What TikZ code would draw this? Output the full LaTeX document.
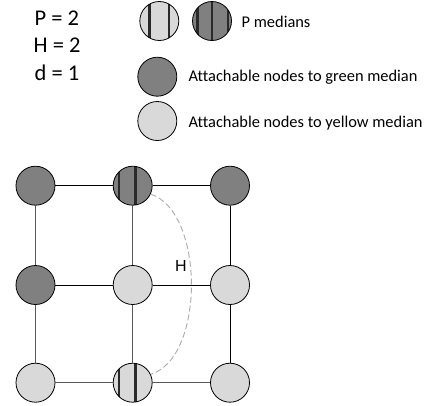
\documentclass[tikz,border=0pt]{standalone}
\usepackage{fontspec}
\setmainfont{Carlito}[Ligatures=NoCommon]
\newfontfamily\hfont{Liberation Sans}
\definecolor{darkfill}{HTML}{808080}
\definecolor{lightfill}{HTML}{D9D9D9}
\definecolor{stripecol}{HTML}{2A2A2A}
\definecolor{edgegray}{HTML}{5A5A5A}
\definecolor{dashgray}{HTML}{AAAAAA}
\tikzset{
  vert/.style={circle, draw=black, line width=0.8pt, minimum size=39pt, inner sep=0pt},
  darkv/.style={vert, fill=darkfill},
  lightv/.style={vert, fill=lightfill},
  edgeA/.style={draw=black, line width=0.9pt},
  edgeB/.style={draw=edgegray, line width=0.9pt},
  bigtxt/.style={font=\fontsize{22.5}{26}\selectfont, anchor=base west, inner sep=0pt},
  legtxt/.style={font=\fontsize{16.4}{19}\selectfont, anchor=base west, inner sep=0pt},
}
\begin{document}
\begin{tikzpicture}[x=1pt, y=-1pt]
\useasboundingbox (0,0) rectangle (433,405);
% parameters
\node[bigtxt] (tP) at (34.5,25.7) {P = 2};
\node[bigtxt] (tH) at (33.5,52.2) {H = 2};
\node[bigtxt] (td) at (34.5,80.5) {d = 1};
% legend
\node[lightv, path picture={
    \draw[stripecol, line width=2.2pt] ([xshift=-9.8pt]path picture bounding box.north) -- ([xshift=-9.8pt]path picture bounding box.south);
    \draw[stripecol, line width=2.2pt] ([xshift=9.8pt]path picture bounding box.north) -- ([xshift=9.8pt]path picture bounding box.south);}] (lgY) at (159.3,21) {};
\node[darkv, path picture={
    \draw[stripecol, line width=2.2pt] ([xshift=-14.5pt]path picture bounding box.north) -- ([xshift=-14.5pt]path picture bounding box.south);
    \draw[stripecol, line width=2.2pt] (path picture bounding box.north) -- (path picture bounding box.south);
    \draw[stripecol, line width=2.2pt] ([xshift=16pt]path picture bounding box.north) -- ([xshift=16pt]path picture bounding box.south);}] (lgG) at (212,21) {};
\node[legtxt] (lP) at (241.5,27.5) {P medians};
\node[darkv] (lgD) at (157.3,76.7) {};
\node[legtxt] (lD) at (188.3,81.7) {Attachable nodes to green median};
\node[lightv] (lgL) at (157.3,121) {};
\node[legtxt] (lL) at (188.3,127.5) {Attachable nodes to yellow median};
% grid nodes
\node[darkv] (n11) at (35.5,185.7) {};
\node[darkv, path picture={
    \draw[stripecol, line width=2.2pt] ([xshift=-13.5pt]path picture bounding box.north) -- ([xshift=-13.5pt]path picture bounding box.south);
    \draw[stripecol, line width=2.2pt] ([xshift=2.8pt]path picture bounding box.north) -- ([xshift=2.8pt]path picture bounding box.south);}] (n12) at (132.7,185.7) {};
\node[darkv] (n13) at (230,185.7) {};
\node[darkv] (n21) at (35.5,285) {};
\node[lightv] (n22) at (132.7,285) {};
\node[lightv] (n23) at (230,285) {};
\node[lightv] (n31) at (35.5,382.7) {};
\node[lightv, path picture={
    \draw[stripecol, line width=2.2pt] ([xshift=-13.5pt]path picture bounding box.north) -- ([xshift=-13.5pt]path picture bounding box.south);
    \draw[stripecol, line width=2.2pt] ([xshift=2.8pt]path picture bounding box.north) -- ([xshift=2.8pt]path picture bounding box.south);}] (n32) at (132.7,382.7) {};
\node[lightv] (n33) at (230,382.7) {};
% edges
\draw[edgeA] (n11) -- (n12);
\draw[edgeA] (n12) -- (n13);
\draw[edgeA] (n21) -- (n22);
\draw[edgeA] (n22) -- (n23);
\draw[edgeB] (n31) -- (n32);
\draw[edgeB] (n32) -- (n33);
\draw[edgeB] (n11) -- (n21);
\draw[edgeB] (n21) -- (n31);
\draw[edgeB] (n12) -- (n22);
\draw[edgeB] (n22) -- (n32);
\draw[edgeA] (n13) -- (n23);
\draw[edgeA] (n23) -- (n33);
% H curve
\draw[dashgray, line width=0.9pt, dash pattern=on 6pt off 3pt] (n12.-25) .. controls (205,212) and (205,358) .. (n32.25);
\node[font=\hfont\fontsize{16}{19}\selectfont, inner sep=0pt] (hl) at (180.8,265.7) {H};
\end{tikzpicture}
\end{document}
